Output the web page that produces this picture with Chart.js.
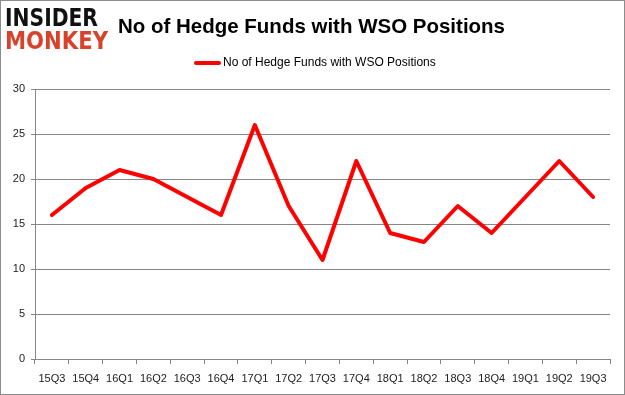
<!DOCTYPE html>
<html>
<head>
<meta charset="utf-8">
<script src="https://cdn.jsdelivr.net/npm/chart.js@4"></script>
<style>
  html, body { margin: 0; padding: 0; background: #fff; }
  #wrap { position: relative; width: 625px; height: 395px; overflow: hidden; }
  #chart { position: absolute; left: 0; top: 0; }
  #frame { position: absolute; left: 0; top: 0; width: 625px; height: 395px; box-sizing: border-box; border: 1px solid #8c8c8c; pointer-events: none; }
  .fit { position: absolute; white-space: nowrap; transform-origin: left top; }
  .logo { left: 5px; font-family: "DejaVu Sans", sans-serif; font-weight: bold; font-size: 25px; line-height: 25px; }
  #logo1 { top: 5px; color: #111; }
  #logo2 { top: 28px; color: #d9412b; }
  #title { left: 118px; top: 14px; font-family: "Liberation Sans", Arial, sans-serif; font-weight: bold; font-size: 21px; line-height: 24px; color: #000; }
  #legend { position: absolute; left: 194px; top: 54px; font-family: "Liberation Sans", Arial, sans-serif; font-size: 12px; line-height: 16px; color: #000; white-space: nowrap; }
  #legend span.swatch { display: inline-block; width: 27px; height: 4px; background: #ff0000; vertical-align: middle; margin-right: 2px; border-radius: 2px; }
</style>
</head>
<body>
<div id="wrap">
  <canvas id="chart" width="625" height="395"></canvas>
  <div class="fit logo" id="logo1" data-w="93">INSIDER</div>
  <div class="fit logo" id="logo2" data-w="103">MONKEY</div>
  <div class="fit" id="title" data-w="387">No of Hedge Funds with WSO Positions</div>
  <div id="legend"><span class="swatch"></span>No of Hedge Funds with WSO Positions</div>
  <div id="frame"></div>
</div>
<script>
const quarters = ['15Q3', '15Q4', '16Q1', '16Q2', '16Q3', '16Q4', '17Q1', '17Q2', '17Q3',
                  '17Q4', '18Q1', '18Q2', '18Q3', '18Q4', '19Q1', '19Q2', '19Q3'];
const hedgeFunds = [16, 19, 21, 20, 18, 16, 26, 17, 11, 22, 14, 13, 17, 14, 18, 22, 18];
const yTicks = [0, 5, 10, 15, 20, 25, 30];
const seriesName = 'No of Hedge Funds with WSO Positions';

// squeeze header texts to the widths seen in the picture
document.querySelectorAll('.fit').forEach(el => {
    const w = el.getBoundingClientRect().width;
    const target = parseFloat(el.dataset.w);
    el.style.transform = 'scaleX(' + (target / w) + ')';
});

const ctx = document.getElementById('chart').getContext('2d');

new Chart(ctx, {
    type: 'line',
    data: {
        labels: quarters,
        datasets: [{
            label: seriesName,
            data: hedgeFunds,
            borderColor: '#ff0000',
            backgroundColor: '#ff0000',
            borderWidth: 4,
            pointRadius: 0,
            tension: 0,
            borderCapStyle: 'round',
            borderJoinStyle: 'round'
        }]
    },
    options: {
        responsive: false,
        animation: false,
        layout: { padding: { top: 89, right: 15, left: 0, bottom: 0 } },
        plugins: {
            legend: { display: false },
            title: { display: false },
            tooltip: { enabled: false }
        },
        scales: {
            x: {
                offset: true,
                afterFit: s => { s.height = 36; },
                grid: {
                    offset: true,
                    drawOnChartArea: false,
                    drawTicks: true,
                    tickLength: 5,
                    color: '#868686'
                },
                border: { color: '#868686', width: 1 },
                ticks: {
                    autoSkip: false,
                    maxRotation: 0,
                    padding: 8,
                    color: '#222',
                    font: { family: 'Liberation Sans, Arial, sans-serif', size: 11 }
                }
            },
            y: {
                min: 0,
                max: 30,
                afterFit: s => { s.width = 35; },
                afterBuildTicks: s => { s.ticks = yTicks.map(v => ({ value: v })); },
                grid: {
                    color: '#868686',
                    tickLength: 4,
                    lineWidth: 1
                },
                border: { color: '#868686', width: 1 },
                ticks: {
                    padding: 6,
                    color: '#222',
                    font: { family: 'Liberation Sans, Arial, sans-serif', size: 11 }
                }
            }
        }
    }
});
</script>
</body>
</html>
